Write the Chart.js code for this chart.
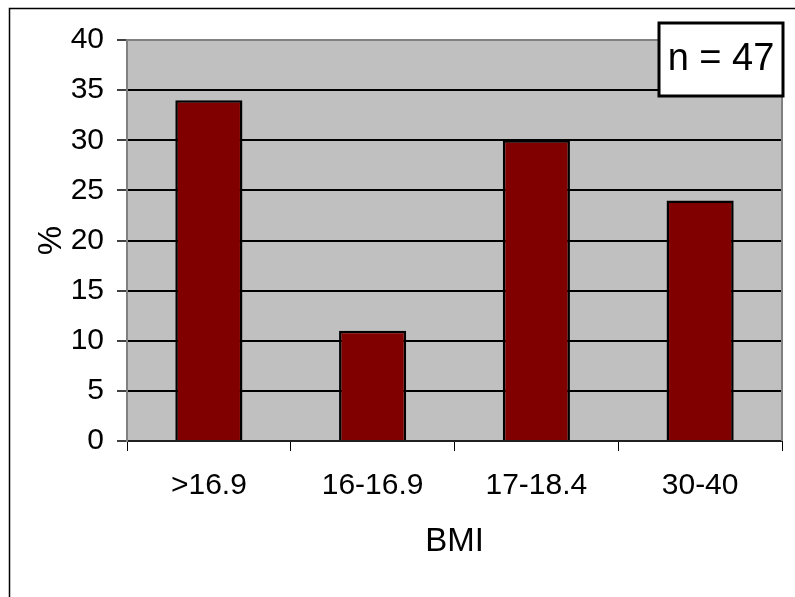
<!DOCTYPE html>
<html>
<head>
<meta charset="utf-8">
<script src="https://cdn.jsdelivr.net/npm/chart.js@4/dist/chart.umd.min.js"></script>
<style>
  html, body { margin: 0; padding: 0; background: #fff; }
  #wrap { width: 795px; height: 597px; position: relative; }
</style>
</head>
<body>
<div id="wrap"><canvas id="bmi-chart"></canvas></div>
<script>
var categories = ['>16.9', '16-16.9', '17-18.4', '30-40'];
var percentValues = [34, 11, 30, 24];
var yTicks = [0, 5, 10, 15, 20, 25, 30, 35, 40];
var sampleLabel = 'n = 47';

(function () {
  "use strict";

  // gray plot background, gray top/right edge, outer frame and the "n = 47" box
  var decorPlugin = {
    id: 'decor',
    beforeDraw: function (chart) {
      var ctx = chart.ctx;
      var a = chart.chartArea;
      ctx.save();
      ctx.fillStyle = '#c0c0c0';
      ctx.fillRect(a.left, a.top, a.right - a.left, a.bottom - a.top);
      ctx.strokeStyle = '#000';
      ctx.lineWidth = 1.5;
      ctx.beginPath();
      ctx.moveTo(9.5, chart.height + 2);
      ctx.lineTo(9.5, 8.5);
      ctx.lineTo(chart.width + 2, 8.5);
      ctx.stroke();
      ctx.restore();
    },
    afterDraw: function (chart) {
      var ctx = chart.ctx;
      var a = chart.chartArea;
      ctx.save();
      ctx.strokeStyle = '#808080';
      ctx.lineWidth = 2;
      ctx.beginPath();
      ctx.moveTo(a.left, a.top);
      ctx.lineTo(a.right, a.top);
      ctx.lineTo(a.right, a.bottom);
      ctx.stroke();

      ctx.fillStyle = '#fff';
      ctx.fillRect(659, 23, 124, 73);
      ctx.strokeStyle = '#000';
      ctx.lineWidth = 3;
      ctx.strokeRect(659, 23, 124, 73);
      ctx.fillStyle = '#000';
      ctx.font = '38px "Liberation Sans", Arial, sans-serif';
      ctx.textAlign = 'center';
      ctx.textBaseline = 'middle';
      ctx.fillText(sampleLabel, 721, 60);
      ctx.restore();
    }
  };

  var fontFamily = '"Liberation Sans", Arial, sans-serif';

  new Chart(document.getElementById('bmi-chart').getContext('2d'), {
    type: 'bar',
    data: {
      labels: categories,
      datasets: [{
        label: '%',
        data: percentValues,
        backgroundColor: '#800000',
        borderColor: '#000',
        borderWidth: 2.5,
        barPercentage: 0.41,
        categoryPercentage: 1
      }]
    },
    options: {
      responsive: true,
      maintainAspectRatio: false,
      animation: false,
      layout: { padding: { left: 0, top: 40, right: 13, bottom: 0 } },
      plugins: {
        legend: { display: false },
        tooltip: { enabled: false }
      },
      scales: {
        x: {
          afterFit: function (scale) { scale.height = 156; },
          grid: {
            offset: true,
            drawOnChartArea: false,
            drawTicks: true,
            tickLength: 10,
            tickColor: '#000',
            lineWidth: 1
          },
          border: { color: '#202020', width: 2 },
          ticks: {
            color: '#000',
            padding: 17,
            font: { family: fontFamily, size: 30 }
          },
          title: {
            display: true,
            text: 'BMI',
            color: '#000',
            font: { family: fontFamily, size: 33 },
            padding: { top: 0, bottom: 35 }
          }
        },
        y: {
          min: 0,
          max: 40,
          afterFit: function (scale) { scale.width = 127; },
          afterBuildTicks: function (scale) {
            scale.ticks = yTicks.map(function (v) { return { value: v }; });
          },
          grid: {
            color: function (c) { return c.tick && c.tick.value === 40 ? '#808080' : '#000'; },
            lineWidth: 2,
            tickLength: 10,
            tickColor: '#000',
            tickWidth: 1.5
          },
          border: { color: '#808080', width: 2 },
          ticks: {
            color: '#000',
            padding: 13,
            font: { family: fontFamily, size: 30 }
          },
          title: {
            display: true,
            text: '%',
            color: '#000',
            font: { family: fontFamily, size: 33 },
            padding: { top: 32, bottom: 0 }
          }
        }
      }
    },
    plugins: [decorPlugin]
  });
})();
</script>
</body>
</html>
